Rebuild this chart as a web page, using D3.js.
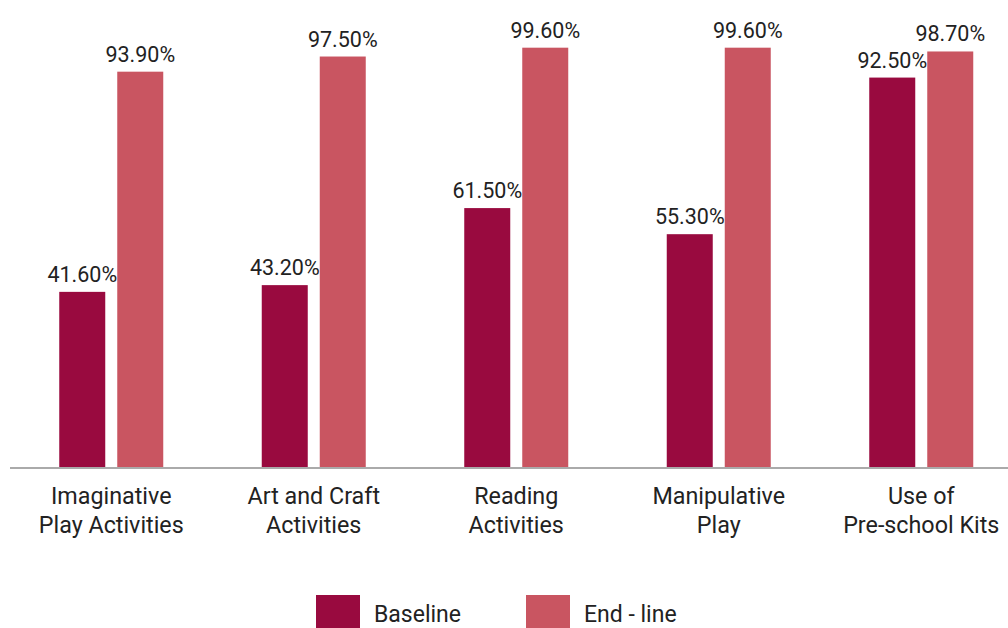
<!DOCTYPE html>
<html>
<head>
<meta charset="utf-8">
<script src="https://cdn.jsdelivr.net/npm/d3@7"></script>
<style>
  html, body { margin: 0; padding: 0; background: #fff; }
  svg { display: block; font-family: Roboto, "Noto Sans", sans-serif; }
</style>
</head>
<body>
<svg id="chart" width="1008" height="628"></svg>
<script>
// Activity categories (each label split over two lines)
const categories = [
  ["Imaginative", "Play Activities"],
  ["Art and Craft", "Activities"],
  ["Reading", "Activities"],
  ["Manipulative", "Play"],
  ["Use of", "Pre-school Kits"]
];
const seriesNames = ["Baseline", "End - line"];
const baseline = [41.6, 43.2, 61.5, 55.3, 92.5];
const endline = [93.9, 97.5, 99.6, 99.6, 98.7];
const colors = ["#990a3f", "#c95561"];
const textColor = "#222222";

const svg = d3.select("#chart");
const W = 1008, H = 628;
const y0 = 467, yTop = 46;
const groupW = 104;

const keys = categories.map(c => c.join(" "));
const rows = keys.map((k, i) => ({ key: k, lines: categories[i], values: [baseline[i], endline[i]] }));

const x = d3.scaleBand().domain(keys).range([10, 1022.5]).paddingInner(0).paddingOuter(0);
const xInner = d3.scaleBand().domain(seriesNames).range([0, groupW]).paddingInner(12 / 58).paddingOuter(0);
const y = d3.scaleLinear().domain([0, 100]).range([y0, yTop]);

const groups = svg.selectAll("g.group").data(rows).join("g")
  .attr("class", "group")
  .attr("transform", d => `translate(${x(d.key) + x.bandwidth() / 2 - groupW / 2},0)`);

const bars = groups.selectAll("g.bar")
  .data(d => d.values.map((v, j) => ({ name: seriesNames[j], v, j })))
  .join("g").attr("class", "bar");

bars.append("rect")
  .attr("x", d => xInner(d.name))
  .attr("width", xInner.bandwidth())
  .attr("y", d => y(d.v))
  .attr("height", d => y0 - y(d.v))
  .attr("fill", d => colors[d.j]);

bars.append("text")
  .attr("x", d => xInner(d.name) + xInner.bandwidth() / 2)
  .attr("y", d => y(d.v) - 10)
  .attr("text-anchor", "middle")
  .attr("font-size", 21.5)
  .attr("fill", textColor)
  .text(d => d.v.toFixed(2) + "%");

// Baseline axis
const axis = svg.append("g").attr("transform", `translate(0,${y0 + 1})`)
  .call(d3.axisBottom(x).tickSize(0).tickFormat(""));
axis.select(".domain").attr("stroke", "#aaaaaa").attr("stroke-width", 2)
  .attr("d", `M10,0H${W}`);

// Category labels
const lab = svg.append("g");
rows.forEach(r => {
  const cx = x(r.key) + x.bandwidth() / 2;
  const t = lab.append("text")
    .attr("x", cx)
    .attr("y", 504)
    .attr("text-anchor", "middle")
    .attr("font-size", 23.3)
    .attr("fill", textColor);
  r.lines.forEach((l, i) => {
    t.append("tspan").attr("x", cx).attr("dy", i === 0 ? 0 : 29).text(l);
  });
});

// Legend
const legendX = [316, 526];
const leg = svg.append("g");
seriesNames.forEach((n, i) => {
  leg.append("rect").attr("x", legendX[i]).attr("y", 595).attr("width", 44).attr("height", 33).attr("fill", colors[i]);
  leg.append("text").attr("x", legendX[i] + 58).attr("y", 622).attr("font-size", 23).attr("fill", textColor).text(n);
});
</script>
</body>
</html>
